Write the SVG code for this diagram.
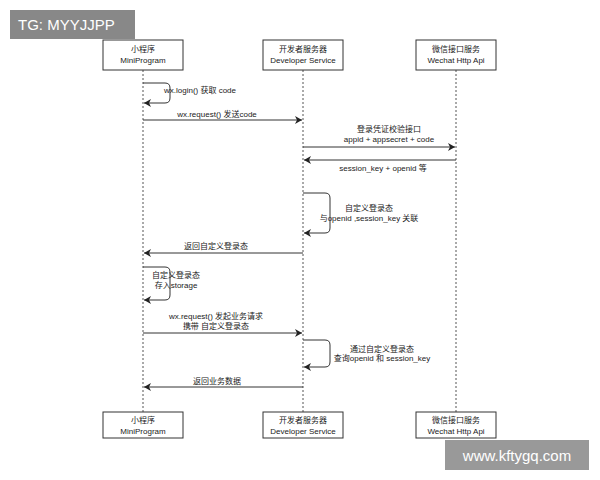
<svg xmlns="http://www.w3.org/2000/svg" width="600" height="480" viewBox="0 0 600 480">
<style>
.box{fill:#fff;stroke:#333;stroke-width:1}
.life{stroke:#555;stroke-width:1;stroke-dasharray:2,2}
.msg{fill:none;stroke:#333;stroke-width:1;marker-end:url(#ah)}
text{font-family:"Liberation Sans","Noto Sans CJK SC",sans-serif;font-size:8px;fill:#222;text-anchor:middle}
.l{text-anchor:start}
</style>
<defs><marker id="ah" markerWidth="8" markerHeight="8" refX="7" refY="4" orient="auto" markerUnits="userSpaceOnUse"><path d="M0,0 L7,4 L0,8 L2,4 Z" fill="#222"/></marker></defs>
<rect width="600" height="480" fill="#fff"/>
<g id="lifelines">
<line class="life" x1="143" y1="70" x2="143" y2="412"/>
<line class="life" x1="303" y1="70" x2="303" y2="412"/>
<line class="life" x1="456" y1="70" x2="456" y2="412"/>
</g>
<g id="mp-top"><rect class="box" x="103" y="40" width="80" height="30"/><text x="143" y="52">小程序</text><text x="143" y="63">MiniProgram</text></g>
<g id="dev-top"><rect class="box" x="263" y="40" width="80" height="30"/><text x="303" y="52">开发者服务器</text><text x="303" y="63">Developer Service</text></g>
<g id="wx-top"><rect class="box" x="416" y="40" width="80" height="30"/><text x="456" y="52">微信接口服务</text><text x="456" y="63">Wechat Http Api</text></g>
<g id="mp-bot"><rect class="box" x="103" y="412" width="80" height="26"/><text x="143" y="423">小程序</text><text x="143" y="434">MiniProgram</text></g>
<g id="dev-bot"><rect class="box" x="263" y="412" width="80" height="26"/><text x="303" y="423">开发者服务器</text><text x="303" y="434">Developer Service</text></g>
<g id="wx-bot"><rect class="box" x="416" y="412" width="80" height="26"/><text x="456" y="423">微信接口服务</text><text x="456" y="434">Wechat Http Api</text></g>
<g id="connectors">
<path class="msg" d="M143,83 H165 Q170,83 170,88 V98 Q170,103 165,103 H144"/>
<text class="l" x="164" y="93">wx.login() 获取 code</text>
<path class="msg" d="M143,120 H302"/>
<text x="217" y="117">wx.request() 发送code</text>
<path class="msg" d="M303,147 H455"/>
<text x="389" y="132">登录凭证校验接口</text><text x="389" y="142">appid + appsecret + code</text>
<path class="msg" d="M456,160 H304"/>
<text x="383" y="171">session_key + openid 等</text>
<path class="msg" d="M303,193 H325 Q330,193 330,198 V228 Q330,233 325,233 H304"/>
<text x="369" y="211">自定义登录态</text><text x="369" y="221">与openid ,session_key 关联</text>
<path class="msg" d="M303,253 H144"/>
<text x="216" y="249">返回自定义登录态</text>
<path class="msg" d="M143,267 H165 Q170,267 170,272 V295 Q170,300 165,300 H144"/>
<text x="176" y="278">自定义登录态</text><text x="176" y="288">存入storage</text>
<path class="msg" d="M143,333 H302"/>
<text x="216" y="319">wx.request() 发起业务请求</text><text x="216" y="329">携带 自定义登录态</text>
<path class="msg" d="M303,340 H325 Q330,340 330,345 V362 Q330,367 325,367 H304"/>
<text x="382" y="352">通过自定义登录态</text><text x="382" y="361">查询openid 和 session_key</text>
<path class="msg" d="M303,387 H144"/>
<text x="217" y="384">返回业务数据</text>
</g>
<g id="watermarks">
<rect x="10" y="10" width="125" height="29" fill="#888"/><text class="l" x="18" y="30" style="font-size:15px;fill:#fff">TG: MYYJJPP</text>
<rect x="445" y="440" width="144" height="30" fill="#999"/><text x="517" y="461" style="font-size:15px;fill:#fff">www.kftygq.com</text>
</g>
</svg>
